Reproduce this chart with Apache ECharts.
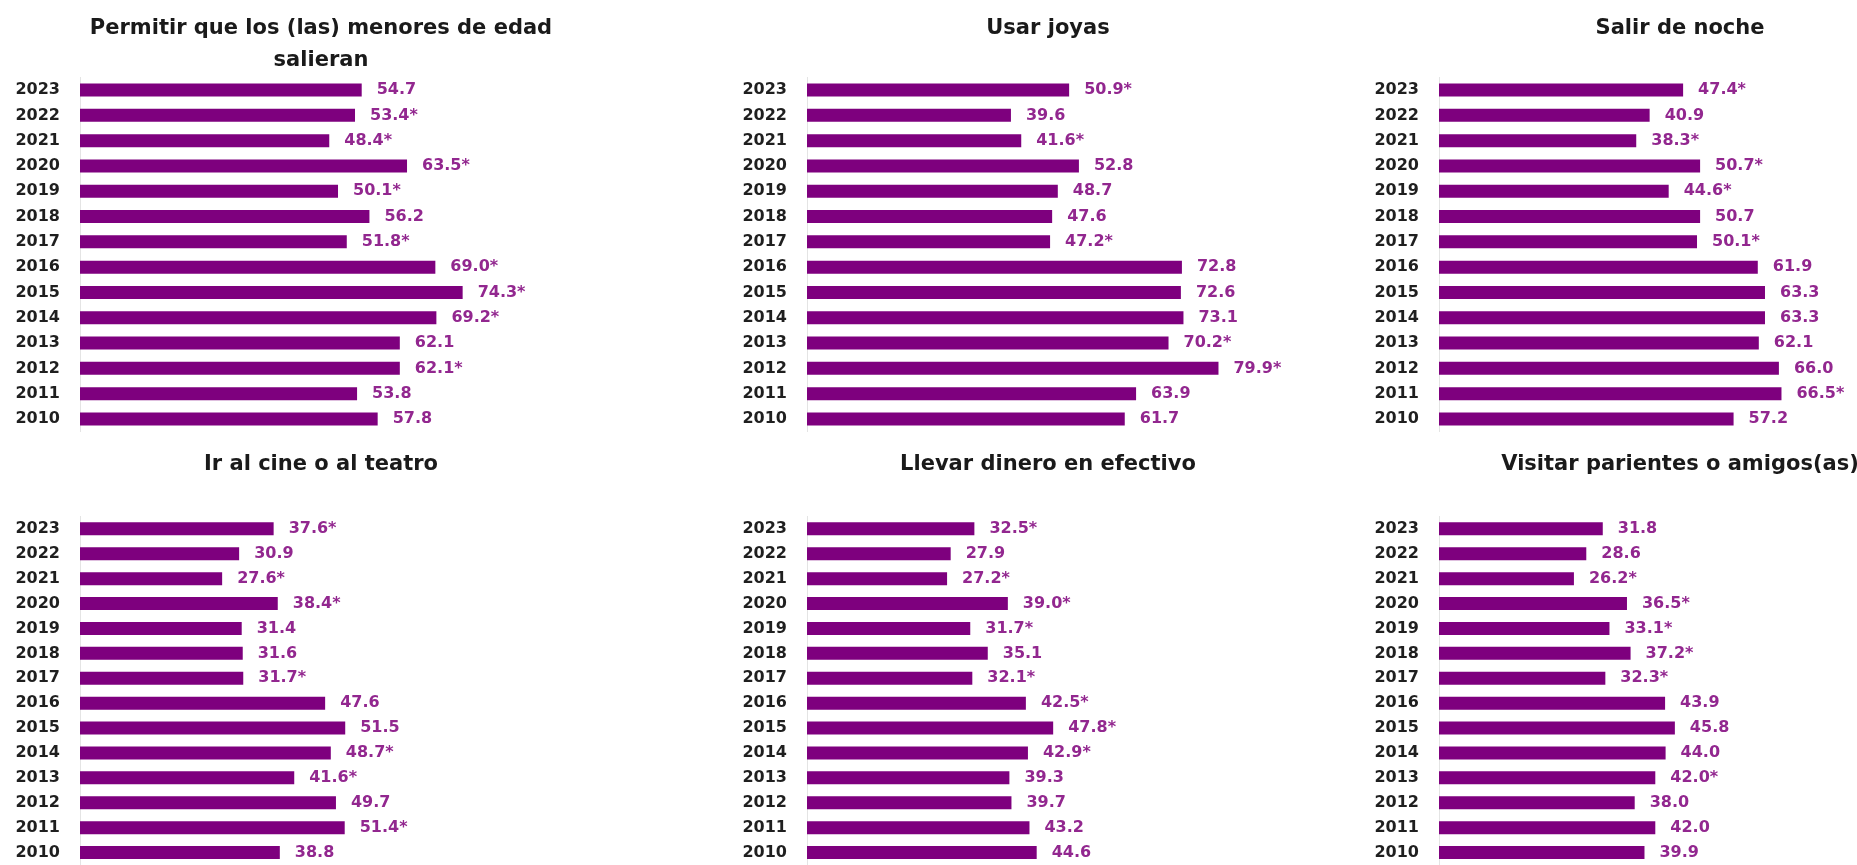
<!DOCTYPE html>
<html>
<head>
<meta charset="utf-8">
<script src="https://cdn.jsdelivr.net/npm/echarts@6/dist/echarts.min.js"></script>
<style>
  html, body { margin: 0; padding: 0; background: #ffffff; }
  #chart { width: 1857px; height: 865px; }
</style>
</head>
<body>
<div id="chart"></div>
<script>
// Years, top to bottom
const years = ['2023', '2022', '2021', '2020', '2019', '2018', '2017', '2016', '2015', '2014', '2013', '2012', '2011', '2010'];

// Panel titles
const titles = [
  'Permitir que los (las) menores de edad\nsalieran',
  'Usar joyas',
  'Salir de noche',
  'Ir al cine o al teatro',
  'Llevar dinero en efectivo',
  'Visitar parientes o amigos(as)'
];

// Percentages per activity (same year order)
const permitirMenores = [54.7, 53.4, 48.4, 63.5, 50.1, 56.2, 51.8, 69.0, 74.3, 69.2, 62.1, 62.1, 53.8, 57.8];
const usarJoyas       = [50.9, 39.6, 41.6, 52.8, 48.7, 47.6, 47.2, 72.8, 72.6, 73.1, 70.2, 79.9, 63.9, 61.7];
const salirNoche      = [47.4, 40.9, 38.3, 50.7, 44.6, 50.7, 50.1, 61.9, 63.3, 63.3, 62.1, 66.0, 66.5, 57.2];
const cineTeatro      = [37.6, 30.9, 27.6, 38.4, 31.4, 31.6, 31.7, 47.6, 51.5, 48.7, 41.6, 49.7, 51.4, 38.8];
const dineroEfectivo  = [32.5, 27.9, 27.2, 39.0, 31.7, 35.1, 32.1, 42.5, 47.8, 42.9, 39.3, 39.7, 43.2, 44.6];
const visitarParientes= [31.8, 28.6, 26.2, 36.5, 33.1, 37.2, 32.3, 43.9, 45.8, 44.0, 42.0, 38.0, 42.0, 39.9];

// Statistically significant change marks (1 = shown with an asterisk)
const marksPermitir = [0, 1, 1, 1, 1, 0, 1, 1, 1, 1, 0, 1, 0, 0];
const marksJoyas    = [1, 0, 1, 0, 0, 0, 1, 0, 0, 0, 1, 1, 0, 0];
const marksNoche    = [1, 0, 1, 1, 1, 0, 1, 0, 0, 0, 0, 0, 1, 0];
const marksCine     = [1, 0, 1, 1, 0, 0, 1, 0, 0, 1, 1, 0, 1, 0];
const marksDinero   = [1, 0, 1, 1, 1, 0, 1, 1, 1, 1, 0, 0, 0, 0];
const marksVisitar  = [0, 0, 1, 1, 1, 1, 1, 0, 0, 0, 1, 0, 0, 0];

const seriesValues = [permitirMenores, usarJoyas, salirNoche, cineTeatro, dineroEfectivo, visitarParientes];
const seriesMarks  = [marksPermitir, marksJoyas, marksNoche, marksCine, marksDinero, marksVisitar];

const BAR = '#7e007e';
const LABEL = '#92278f';
const FONT = '"DejaVu Sans", sans-serif';

// Panel placement: left edge of each value axis, top of each category band
const colLeft = [80, 807, 1439];
const rowTop = [77.4, 516.4];
const gridW = 412;    // 0..80 on the value axis
const gridH = 354.2;
const titleTop = [8, 444];
const titleOffset = 236;

const grids = [], xAxes = [], yAxes = [], series = [], titleList = [];

for (let i = 0; i < 6; i++) {
  const col = i % 3, row = Math.floor(i / 3);
  grids.push({ left: colLeft[col], top: rowTop[row], width: gridW, height: gridH, containLabel: false });
  xAxes.push({
    gridIndex: i, type: 'value', min: 0, max: 80, show: false
  });
  yAxes.push({
    gridIndex: i, type: 'category', data: years, inverse: true,
    axisLine: { show: true, lineStyle: { color: '#e4e4e4', width: 1 } },
    axisTick: { show: false },
    axisLabel: { margin: 20, fontFamily: FONT, fontWeight: 'bold', fontSize: 16, color: '#1f1f1f' },
    splitLine: { show: false }
  });
  const marks = seriesMarks[i];
  series.push({
    type: 'bar', xAxisIndex: i, yAxisIndex: i,
    data: seriesValues[i],
    barWidth: 13,
    itemStyle: { color: BAR },
    label: {
      show: true, position: 'right', distance: 15,
      fontFamily: FONT, fontWeight: 'bold', fontSize: 16, color: LABEL,
      formatter: p => p.value.toFixed(1) + (marks[p.dataIndex] ? '*' : '')
    },
    animation: false
  });
  titleList.push({
    text: titles[i],
    left: colLeft[col] + titleOffset,
    top: titleTop[row],
    textAlign: 'center',
    textStyle: { fontFamily: FONT, fontSize: 21, fontWeight: 'bold', color: '#1a1a1a', lineHeight: 32 }
  });
}

const chart = echarts.init(document.getElementById('chart'), null, { renderer: 'canvas' });
chart.setOption({
  backgroundColor: '#ffffff',
  animation: false,
  title: titleList,
  grid: grids,
  xAxis: xAxes,
  yAxis: yAxes,
  series: series
});
</script>
</body>
</html>
